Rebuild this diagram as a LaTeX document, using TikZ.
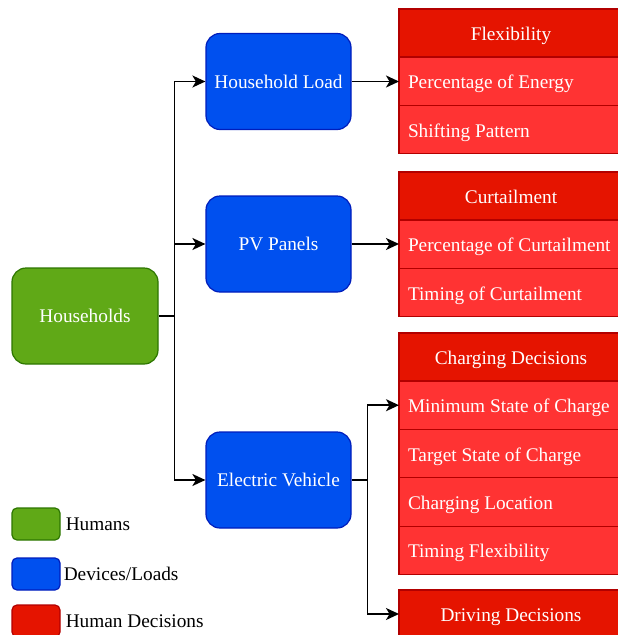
\documentclass[tikz,border=0pt]{standalone}
\usepackage{fontspec}
\setmainfont{Liberation Serif}
\usepackage{tikz}
\usetikzlibrary{arrows.meta, positioning}
\definecolor{hgreen}{HTML}{60A917}
\definecolor{hgreenline}{HTML}{2D7600}
\definecolor{dblue}{HTML}{0050EF}
\definecolor{dblueline}{HTML}{001DBC}
\definecolor{dred}{HTML}{E51400}
\definecolor{dredline}{HTML}{B20000}
\definecolor{rowred}{HTML}{FF3333}
\newcommand{\dfont}{\fontsize{19.3}{23}\selectfont}
\newcommand{\rowtext}[1]{\makebox[206pt][l]{#1}}
\tikzset{
  human/.style={rectangle, draw=hgreenline, fill=hgreen, text=white,
    minimum width=146pt, minimum height=96pt, inner sep=0pt,
    font=\dfont, rounded corners=14pt, line width=1.2pt},
  device/.style={rectangle, draw=dblueline, fill=dblue, text=white,
    minimum width=145pt, minimum height=96pt, inner sep=0pt,
    font=\dfont, rounded corners=14pt, line width=1.2pt},
  dechead/.style={rectangle, draw=dredline, fill=dred, text=white,
    minimum width=224pt, inner sep=0pt, outer sep=0pt,
    text height=19pt, text depth=4pt,
    minimum height=48pt, font=\dfont, line width=1.2pt},
  decrow/.style={rectangle, draw=dredline, fill=rowred, text=white,
    minimum width=224pt, inner xsep=9pt, inner ysep=0pt, outer sep=0pt,
    text height=19pt, text depth=4pt,
    minimum height=48.4pt, font=\dfont, line width=1.2pt},
  legbox/.style={rectangle, minimum width=48pt, minimum height=32pt,
    inner sep=0pt, rounded corners=5pt, line width=1.2pt},
  legtext/.style={inner sep=0pt, font=\dfont, text=black},
  arrow/.style={-{Stealth[length=13pt, width=12pt, inset=3.5pt]}, line width=1.6pt, color=black},
  line/.style={line width=1.6pt, color=black}
}
\begin{document}
\begin{tikzpicture}[x=1pt, y=-1pt]
  \useasboundingbox (0,0) rectangle (618,635);
  % main boxes
  \node[human]  (hh)   at (85,316)    {Households};
  \node[device] (load) at (278.5,81.5) {Household Load};
  \node[device] (pv)   at (278.5,244)  {PV Panels};
  \node[device] (ev)   at (278.5,480)  {Electric Vehicle};

  % decision tables
  \node[dechead, anchor=north west] (flex) at (399,9) {Flexibility};
  \node[decrow, below=0pt of flex]  (flex1) {\rowtext{Percentage of Energy}};
  \node[decrow, below=0pt of flex1] (flex2) {\rowtext{Shifting Pattern}};

  \node[dechead, anchor=north west] (curt) at (399,172) {Curtailment};
  \node[decrow, below=0pt of curt]  (curt1) {\rowtext{Percentage of Curtailment}};
  \node[decrow, below=0pt of curt1] (curt2) {\rowtext{Timing of Curtailment}};

  \node[dechead, anchor=north west] (chg) at (399,333) {Charging Decisions};
  \node[decrow, below=0pt of chg]  (chg1) {\rowtext{Minimum State of Charge}};
  \node[decrow, below=0pt of chg1] (chg2) {\rowtext{Target State of Charge}};
  \node[decrow, below=0pt of chg2] (chg3) {\rowtext{Charging Location}};
  \node[decrow, below=0pt of chg3] (chg4) {\rowtext{Timing Flexibility}};

  \node[dechead, anchor=north west] (drive) at (399,590) {Driving Decisions};

  % connectors
  \draw[line] (hh.east) -- ++(16,0) coordinate (hhsplit);
  \draw[arrow] (hhsplit) |- (load.west);
  \draw[arrow] (hhsplit) |- (pv.west);
  \draw[arrow] (hhsplit) |- (ev.west);
  \draw[arrow] (load.east) -- (load.east -| flex1.west);
  \draw[arrow] (pv.east) -- (pv.east -| curt1.west);
  \draw[line] (ev.east) -- ++(16,0) coordinate (evsplit);
  \draw[arrow] (evsplit) |- (chg1.west);
  \draw[arrow] (evsplit) |- (drive.west);

  % legend
  \node[legbox, draw=hgreenline, fill=hgreen] (leghuman) at (36,524) {};
  \node[legtext, right=5pt of leghuman] (leghumantxt) {Humans};
  \node[legbox, draw=dblueline, fill=dblue] (legdevice) at (36,574) {};
  \node[legtext, right=3pt of legdevice] (legdevicetxt) {Devices/Loads};
  \node[legbox, draw=dredline, fill=dred] (legdecision) at (36,621) {};
  \node[legtext, right=5pt of legdecision] (legdecisiontxt) {Human Decisions};
\end{tikzpicture}
\end{document}
